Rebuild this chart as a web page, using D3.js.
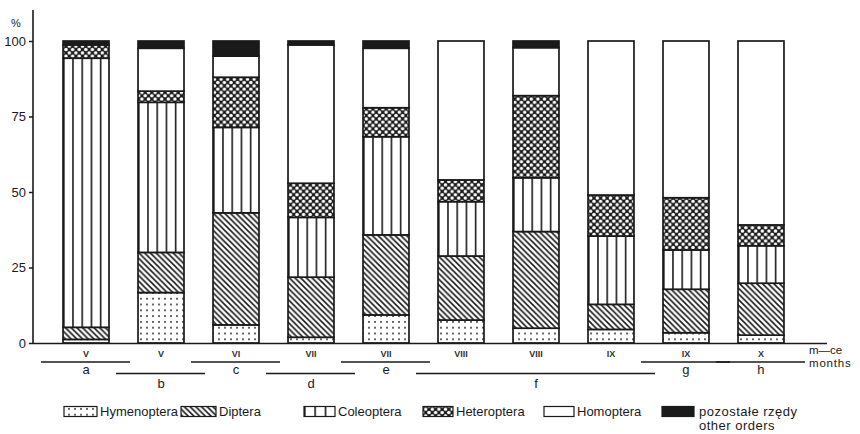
<!DOCTYPE html>
<html>
<head>
<meta charset="utf-8">
<script src="https://cdn.jsdelivr.net/npm/d3@7/dist/d3.min.js"></script>
<style>
  html, body { margin: 0; padding: 0; background: #fff; }
  svg { display: block; font-family: "Liberation Sans", Arial, sans-serif; }
</style>
</head>
<body>
<svg id="chart" width="860" height="434"></svg>
<script>
// Share (%) of insect orders in samples, by month and site
const months = ["V", "V", "VI", "VII", "VII", "VIII", "VIII", "IX", "IX", "X"];
const hymenoptera = [1.2, 16.7, 6.0, 1.9, 9.3, 7.6, 4.9, 4.5, 3.4, 2.6];
const diptera     = [4.0, 13.3, 37.1, 19.9, 26.5, 21.2, 32.0, 8.3, 14.4, 17.2];
const coleoptera  = [89.1, 49.7, 28.3, 19.8, 32.5, 18.0, 17.8, 22.6, 13.0, 12.4];
const heteroptera = [4.4, 3.7, 16.6, 11.3, 9.6, 7.2, 27.2, 13.6, 17.3, 6.9];
const homoptera   = [0, 14.2, 7.0, 45.8, 19.7, 46.0, 15.9, 51.0, 51.9, 60.9];
const otherOrders = [1.3, 2.4, 5.0, 1.3, 2.4, 0, 2.2, 0, 0, 0];

const orderKeys = ["Hymenoptera", "Diptera", "Coleoptera", "Heteroptera", "Homoptera", "other"];
const orderLabels = [["Hymenoptera"], ["Diptera"], ["Coleoptera"], ["Heteroptera"], ["Homoptera"], ["pozostałe rzędy", "other orders"]];

// Sites: letter, first and last bar index, row of the bracket line
const sites = ["a", "b", "c", "d", "e", "f", "g", "h"];
const siteFirst = [0, 1, 2, 3, 4, 5, 8, 9];
const siteLast  = [0, 1, 2, 3, 4, 7, 8, 9];
const siteRow   = [0, 1, 0, 1, 0, 1, 0, 0];

const yTicks = [0, 25, 50, 75, 100];

const table = months.map((m, i) => ({
  idx: i,
  Hymenoptera: hymenoptera[i],
  Diptera: diptera[i],
  Coleoptera: coleoptera[i],
  Heteroptera: heteroptera[i],
  Homoptera: homoptera[i],
  other: otherOrders[i]
}));

const svg = d3.select("#chart");
const ink = "#1a1a1a";

const x = d3.scaleBand()
  .domain(d3.range(months.length))
  .range([34, 813])
  .paddingInner(0.387)
  .paddingOuter(0.387);
const y = d3.scaleLinear().domain([0, 100]).range([343, 41]);

// ---------- fill patterns ----------
const defs = svg.append("defs");

// dots
const pDots = defs.append("pattern").attr("id", "p-dots")
  .attr("patternUnits", "userSpaceOnUse").attr("width", 6).attr("height", 5.8);
pDots.append("rect").attr("width", 6).attr("height", 5.8).attr("fill", "#fff");
pDots.append("rect").attr("x", 2.2).attr("y", 2.1).attr("width", 1.6).attr("height", 1.6).attr("fill", ink);

// diagonal "\" hatch
const pDiag = defs.append("pattern").attr("id", "p-diag")
  .attr("patternUnits", "userSpaceOnUse").attr("width", 5.7).attr("height", 5.7);
pDiag.append("rect").attr("width", 5.7).attr("height", 5.7).attr("fill", "#fff");
pDiag.append("path").attr("d", "M-1,-1 L6.7,6.7 M-1,4.7 L1,6.7 M4.7,-1 L6.7,1")
  .attr("stroke", ink).attr("stroke-width", 1.6);

// vertical columns, five per bar
function columnPattern(id, n) {
  const p = defs.append("pattern").attr("id", id)
    .attr("patternUnits", "objectBoundingBox")
    .attr("width", 1 / n).attr("height", 1);
  p.append("rect").attr("width", 200).attr("height", 1000).attr("fill", "#fff");
  p.append("line").attr("x1", 0.8).attr("x2", 0.8).attr("y1", 0).attr("y2", 1000)
    .attr("stroke", ink).attr("stroke-width", 1.6);
}
columnPattern("p-cols", 5);
columnPattern("p-cols-legend", 3);

// dense cross hatch with light holes
const pCross = defs.append("pattern").attr("id", "p-cross")
  .attr("patternUnits", "userSpaceOnUse").attr("width", 6.6).attr("height", 6.6);
pCross.append("rect").attr("width", 6.6).attr("height", 6.6).attr("fill", ink);
[[3.3, 0], [0, 3.3], [6.6, 3.3], [3.3, 6.6]].forEach(([cx, cy]) => {
  pCross.append("circle").attr("cx", cx).attr("cy", cy).attr("r", 1.75).attr("fill", "#fff");
});

const fills = {
  Hymenoptera: "url(#p-dots)",
  Diptera: "url(#p-diag)",
  Coleoptera: "url(#p-cols)",
  Heteroptera: "url(#p-cross)",
  Homoptera: "#fff",
  other: ink
};
const legendFills = Object.assign({}, fills, { Coleoptera: "url(#p-cols-legend)" });

// ---------- stacked bars ----------
const series = d3.stack().keys(orderKeys)(table);

svg.append("g").selectAll("g")
  .data(series)
  .join("g")
  .attr("fill", d => fills[d.key])
  .selectAll("rect")
  .data(d => d.filter(s => s[1] - s[0] > 0))
  .join("rect")
  .attr("x", d => x(d.data.idx))
  .attr("width", x.bandwidth())
  .attr("y", d => y(d[1]))
  .attr("height", d => y(d[0]) - y(d[1]))
  .attr("stroke", ink)
  .attr("stroke-width", 1.7);

// ---------- axes ----------
const yAxis = d3.axisLeft(y).tickValues(yTicks).tickSize(4).tickPadding(3);
const gy = svg.append("g").attr("transform", "translate(33,0)").call(yAxis);
gy.select(".domain").remove();
gy.selectAll(".tick line").attr("stroke", ink).attr("stroke-width", 1.5);
gy.selectAll(".tick text").attr("font-size", 13).attr("fill", ink)
  .attr("font-family", "'Liberation Sans', Arial, sans-serif");
svg.append("line").attr("x1", 33).attr("x2", 33).attr("y1", 10).attr("y2", 343.5)
  .attr("stroke", ink).attr("stroke-width", 1.6);
svg.append("text").attr("x", 16).attr("y", 27).attr("font-size", 11)
  .attr("text-anchor", "middle").attr("fill", ink).text("%");

svg.append("line").attr("x1", 33).attr("x2", 827).attr("y1", 343.5).attr("y2", 343.5)
  .attr("stroke", ink).attr("stroke-width", 1.6);

// month labels
svg.append("g").selectAll("text")
  .data(months)
  .join("text")
  .attr("x", (d, i) => x(i) + x.bandwidth() / 2)
  .attr("y", 357)
  .attr("text-anchor", "middle")
  .attr("font-size", 9)
  .attr("font-weight", "bold")
  .attr("fill", "#333")
  .text(d => d);

svg.append("text").attr("x", 809).attr("y", 354).attr("font-size", 11.5).attr("fill", ink).text("m—ce");
svg.append("text").attr("x", 809).attr("y", 366.5).attr("font-size", 11.5).attr("fill", ink)
  .attr("letter-spacing", 0.8).text("months");

// site brackets
const rowY = [362, 373.5];
const gs = svg.append("g");
sites.forEach((s, i) => {
  const x0 = x(siteFirst[i]) - 22;
  const x1 = x(siteLast[i]) + x.bandwidth() + 21;
  const ly = rowY[siteRow[i]];
  gs.append("line").attr("x1", x0).attr("x2", x1).attr("y1", ly).attr("y2", ly)
    .attr("stroke", ink).attr("stroke-width", 1.3);
  const cx = (x(siteFirst[i]) + x(siteLast[i]) + x.bandwidth()) / 2;
  gs.append("text").attr("x", cx).attr("y", ly + (siteRow[i] === 0 ? 12 : 14))
    .attr("text-anchor", "middle").attr("font-size", 13).attr("fill", ink).text(s);
});

// ---------- legend ----------
const legendX = [64, 181, 304, 423, 544, 662];
const legendW = [33, 35, 31, 30, 30, 32];
const lg = svg.append("g");
orderKeys.forEach((k, i) => {
  lg.append("rect").attr("x", legendX[i]).attr("y", 406.5).attr("width", legendW[i]).attr("height", 10)
    .attr("fill", legendFills[k]).attr("stroke", ink).attr("stroke-width", 1.2);
  orderLabels[i].forEach((t, j) => {
    lg.append("text").attr("x", legendX[i] + legendW[i] + (i === 5 ? 5 : 3))
      .attr("y", 416 + j * 13.5)
      .attr("font-size", 13).attr("fill", ink)
      .attr("letter-spacing", i === 5 ? 0.5 : 0)
      .text(t);
  });
});
</script>
</body>
</html>
